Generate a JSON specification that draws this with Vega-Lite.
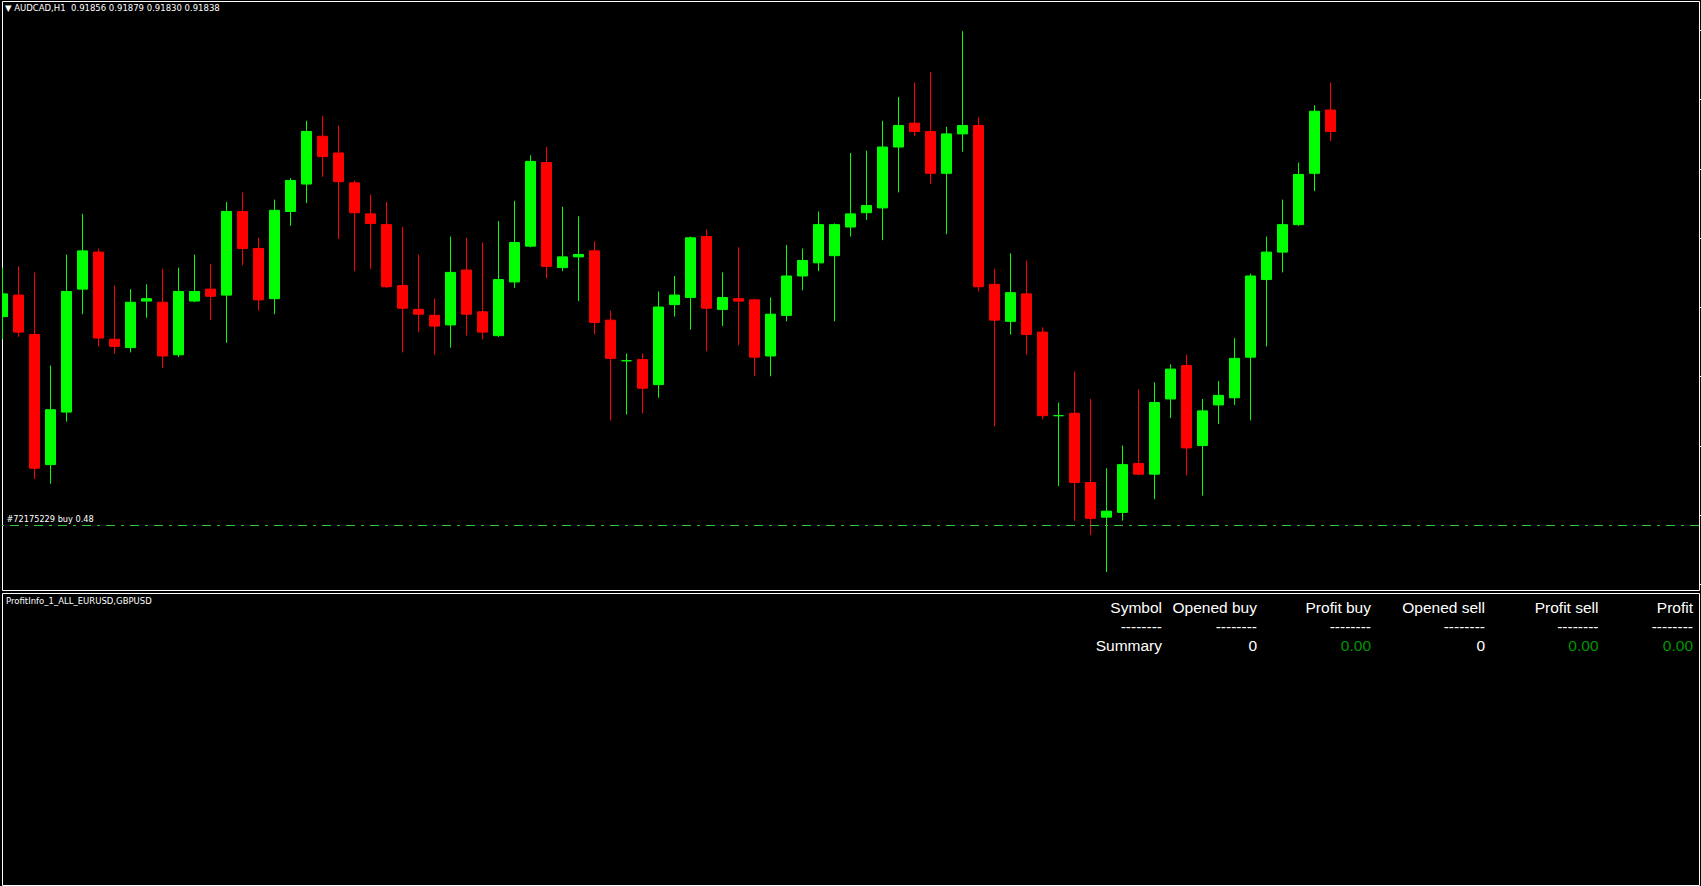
{
  "$schema": "https://vega.github.io/schema/vega-lite/v6.json",
  "background": "#000000",
  "padding": {"left": 1, "top": 0, "right": 0, "bottom": 0},
  "spacing": 3,
  "bounds": "flush",
  "config": {
    "view": {"stroke": "#FFFFFF", "strokeWidth": 1, "fill": "#000000"},
    "text": {"font": "DejaVu Sans"}
  },
  "datasets": {
    "header": [
      {"text": "▼ AUDCAD,H1\u00a0\u00a00.91856 0.91879 0.91830 0.91838"}
    ],
    "panel": [
      {"text": "ProfitInfo_1_ALL_EURUSD,GBPUSD"}
    ],
    "candles": [
      {"i":0,"open":0.91683,"high":0.91724,"low":0.91664,"close":0.91702},
      {"i":1,"open":0.91701,"high":0.91725,"low":0.91666,"close":0.91670},
      {"i":2,"open":0.91668,"high":0.91720,"low":0.91547,"close":0.91556},
      {"i":3,"open":0.91559,"high":0.91642,"low":0.91543,"close":0.91605},
      {"i":4,"open":0.91603,"high":0.91735,"low":0.91595,"close":0.91704},
      {"i":5,"open":0.91706,"high":0.91769,"low":0.91685,"close":0.91738},
      {"i":6,"open":0.91737,"high":0.91740,"low":0.91658,"close":0.91665},
      {"i":7,"open":0.91664,"high":0.91709,"low":0.91652,"close":0.91658},
      {"i":8,"open":0.91657,"high":0.91706,"low":0.91653,"close":0.91695},
      {"i":9,"open":0.91696,"high":0.91710,"low":0.91682,"close":0.91698},
      {"i":10,"open":0.91695,"high":0.91723,"low":0.91640,"close":0.91650},
      {"i":11,"open":0.91651,"high":0.91724,"low":0.91649,"close":0.91704},
      {"i":12,"open":0.91696,"high":0.91735,"low":0.91695,"close":0.91704},
      {"i":13,"open":0.91706,"high":0.91727,"low":0.91680,"close":0.91700},
      {"i":14,"open":0.91701,"high":0.91779,"low":0.91661,"close":0.91771},
      {"i":15,"open":0.91771,"high":0.91787,"low":0.91726,"close":0.91740},
      {"i":16,"open":0.91740,"high":0.91749,"low":0.91688,"close":0.91697},
      {"i":17,"open":0.91698,"high":0.91781,"low":0.91685,"close":0.91772},
      {"i":18,"open":0.91771,"high":0.91799,"low":0.91759,"close":0.91797},
      {"i":19,"open":0.91794,"high":0.91847,"low":0.91778,"close":0.91838},
      {"i":20,"open":0.91834,"high":0.91851,"low":0.91800,"close":0.91817},
      {"i":21,"open":0.91820,"high":0.91843,"low":0.91748,"close":0.91796},
      {"i":22,"open":0.91795,"high":0.91797,"low":0.91721,"close":0.91770},
      {"i":23,"open":0.91769,"high":0.91785,"low":0.91723,"close":0.91761},
      {"i":24,"open":0.91760,"high":0.91779,"low":0.91707,"close":0.91708},
      {"i":25,"open":0.91709,"high":0.91758,"low":0.91653,"close":0.91690},
      {"i":26,"open":0.91689,"high":0.91735,"low":0.91670,"close":0.91685},
      {"i":27,"open":0.91684,"high":0.91698,"low":0.91651,"close":0.91675},
      {"i":28,"open":0.91676,"high":0.91750,"low":0.91657,"close":0.91720},
      {"i":29,"open":0.91722,"high":0.91749,"low":0.91667,"close":0.91685},
      {"i":30,"open":0.91687,"high":0.91745,"low":0.91664,"close":0.91670},
      {"i":31,"open":0.91667,"high":0.91763,"low":0.91666,"close":0.91714},
      {"i":32,"open":0.91712,"high":0.91780,"low":0.91707,"close":0.91745},
      {"i":33,"open":0.91742,"high":0.91818,"low":0.91741,"close":0.91813},
      {"i":34,"open":0.91812,"high":0.91825,"low":0.91715,"close":0.91725},
      {"i":35,"open":0.91724,"high":0.91775,"low":0.91721,"close":0.91733},
      {"i":36,"open":0.91733,"high":0.91767,"low":0.91696,"close":0.91735},
      {"i":37,"open":0.91738,"high":0.91746,"low":0.91668,"close":0.91678},
      {"i":38,"open":0.91680,"high":0.91688,"low":0.91596,"close":0.91648},
      {"i":39,"open":0.91646,"high":0.91652,"low":0.91601,"close":0.91646},
      {"i":40,"open":0.91647,"high":0.91652,"low":0.91602,"close":0.91623},
      {"i":41,"open":0.91626,"high":0.91704,"low":0.91615,"close":0.91691},
      {"i":42,"open":0.91693,"high":0.91717,"low":0.91683,"close":0.91701},
      {"i":43,"open":0.91699,"high":0.91750,"low":0.91672,"close":0.91749},
      {"i":44,"open":0.91750,"high":0.91756,"low":0.91654,"close":0.91690},
      {"i":45,"open":0.91689,"high":0.91720,"low":0.91675,"close":0.91699},
      {"i":46,"open":0.91698,"high":0.91741,"low":0.91659,"close":0.91696},
      {"i":47,"open":0.91697,"high":0.91698,"low":0.91633,"close":0.91649},
      {"i":48,"open":0.91650,"high":0.91699,"low":0.91633,"close":0.91685},
      {"i":49,"open":0.91684,"high":0.91743,"low":0.91679,"close":0.91717},
      {"i":50,"open":0.91717,"high":0.91740,"low":0.91705,"close":0.91730},
      {"i":51,"open":0.91728,"high":0.91771,"low":0.91721,"close":0.91760},
      {"i":52,"open":0.91734,"high":0.91761,"low":0.91679,"close":0.91760},
      {"i":53,"open":0.91758,"high":0.91820,"low":0.91750,"close":0.91769},
      {"i":54,"open":0.91770,"high":0.91822,"low":0.91764,"close":0.91776},
      {"i":55,"open":0.91774,"high":0.91847,"low":0.91747,"close":0.91825},
      {"i":56,"open":0.91825,"high":0.91867,"low":0.91787,"close":0.91843},
      {"i":57,"open":0.91845,"high":0.91879,"low":0.91834,"close":0.91838},
      {"i":58,"open":0.91838,"high":0.91888,"low":0.91794,"close":0.91803},
      {"i":59,"open":0.91803,"high":0.91842,"low":0.91752,"close":0.91836},
      {"i":60,"open":0.91836,"high":0.91922,"low":0.91821,"close":0.91843},
      {"i":61,"open":0.91843,"high":0.91850,"low":0.91704,"close":0.91708},
      {"i":62,"open":0.91710,"high":0.91723,"low":0.91591,"close":0.91680},
      {"i":63,"open":0.91679,"high":0.91736,"low":0.91668,"close":0.91703},
      {"i":64,"open":0.91702,"high":0.91730,"low":0.91651,"close":0.91668},
      {"i":65,"open":0.91670,"high":0.91674,"low":0.91597,"close":0.91600},
      {"i":66,"open":0.91600,"high":0.91611,"low":0.91541,"close":0.91600},
      {"i":67,"open":0.91602,"high":0.91637,"low":0.91512,"close":0.91544},
      {"i":68,"open":0.91544,"high":0.91614,"low":0.91500,"close":0.91514},
      {"i":69,"open":0.91515,"high":0.91556,"low":0.91469,"close":0.91520},
      {"i":70,"open":0.91519,"high":0.91575,"low":0.91512,"close":0.91559},
      {"i":71,"open":0.91560,"high":0.91622,"low":0.91550,"close":0.91551},
      {"i":72,"open":0.91551,"high":0.91628,"low":0.91530,"close":0.91611},
      {"i":73,"open":0.91614,"high":0.91643,"low":0.91598,"close":0.91639},
      {"i":74,"open":0.91642,"high":0.91651,"low":0.91550,"close":0.91573},
      {"i":75,"open":0.91575,"high":0.91614,"low":0.91533,"close":0.91604},
      {"i":76,"open":0.91609,"high":0.91629,"low":0.91593,"close":0.91617},
      {"i":77,"open":0.91615,"high":0.91665,"low":0.91609,"close":0.91648},
      {"i":78,"open":0.91649,"high":0.91719,"low":0.91596,"close":0.91717},
      {"i":79,"open":0.91714,"high":0.91750,"low":0.91658,"close":0.91737},
      {"i":80,"open":0.91737,"high":0.91781,"low":0.91720,"close":0.91760},
      {"i":81,"open":0.91760,"high":0.91812,"low":0.91759,"close":0.91802},
      {"i":82,"open":0.91803,"high":0.91860,"low":0.91788,"close":0.91855},
      {"i":83,"open":0.91856,"high":0.91879,"low":0.91830,"close":0.91838}
    ],
    "orders": [
      {"label": "#72175229 buy 0.48", "price": 0.91508}
    ],
    "table": [
      {"col": 0, "row": 0, "text": "Symbol", "kind": "head"},
      {"col": 1, "row": 0, "text": "Opened buy", "kind": "head"},
      {"col": 2, "row": 0, "text": "Profit buy", "kind": "head"},
      {"col": 3, "row": 0, "text": "Opened sell", "kind": "head"},
      {"col": 4, "row": 0, "text": "Profit sell", "kind": "head"},
      {"col": 5, "row": 0, "text": "Profit", "kind": "head"},
      {"col": 0, "row": 1, "text": "--------", "kind": "head"},
      {"col": 1, "row": 1, "text": "--------", "kind": "head"},
      {"col": 2, "row": 1, "text": "--------", "kind": "head"},
      {"col": 3, "row": 1, "text": "--------", "kind": "head"},
      {"col": 4, "row": 1, "text": "--------", "kind": "head"},
      {"col": 5, "row": 1, "text": "--------", "kind": "head"},
      {"col": 0, "row": 2, "text": "Summary", "kind": "head"},
      {"col": 1, "row": 2, "text": "0", "kind": "count"},
      {"col": 2, "row": 2, "text": "0.00", "kind": "profit"},
      {"col": 3, "row": 2, "text": "0", "kind": "count"},
      {"col": 4, "row": 2, "text": "0.00", "kind": "profit"},
      {"col": 5, "row": 2, "text": "0.00", "kind": "profit"}
    ]
  },
  "vconcat": [
    {
      "width": 1697,
      "height": 589,
      "layer": [
        {
          "data": {"name": "candles"},
          "mark": {"type": "rule", "strokeWidth": 1, "clip": true},
          "encoding": {
            "x": {"field": "i", "type": "quantitative", "scale": {"domain": [-0.03125, 106.03125], "nice": false, "zero": false, "padding": 0}, "axis": null},
            "y": {"field": "low", "type": "quantitative",
              "scale": {"domain": [0.91454, 0.919473], "nice": false, "zero": false, "padding": 0},
              "axis": {"orient": "right", "labels": false, "ticks": true, "tickSize": 3, "tickColor": "#FFFFFF", "tickWidth": 1, "domain": false, "grid": false, "title": null,
                "values": [0.91923, 0.91894, 0.91865, 0.91836, 0.91807, 0.91778, 0.91749, 0.9172, 0.91691, 0.91662, 0.91633, 0.91604, 0.91575, 0.91546, 0.91517, 0.91488, 0.91459]}},
            "y2": {"field": "high"},
            "color": {"condition": {"test": "datum.close >= datum.open", "value": "#00FF00"}, "value": "#FF0000"}
          }
        },
        {
          "data": {"name": "candles"},
          "mark": {"type": "bar", "size": 10, "strokeWidth": 1, "clip": true},
          "encoding": {
            "x": {"field": "i", "type": "quantitative"},
            "y": {"field": "open", "type": "quantitative"},
            "y2": {"field": "close"},
            "color": {"condition": {"test": "datum.close >= datum.open", "value": "#00FF00"}, "value": "#FF0000"},
            "stroke": {"condition": {"test": "datum.close >= datum.open", "value": "#00FF00"}, "value": "#FF0000"}
          }
        },
        {
          "data": {"name": "orders"},
          "mark": {"type": "rule", "color": "#32CD32", "strokeWidth": 1, "strokeDash": [9, 6, 3, 6]},
          "encoding": {
            "y": {"field": "price", "type": "quantitative"}
          }
        },
        {
          "data": {"name": "orders"},
          "mark": {"type": "text", "align": "left", "baseline": "alphabetic", "dx": 4, "dy": -4, "font": "DejaVu Sans", "fontSize": 8.2, "color": "#FFFFFF"},
          "encoding": {
            "x": {"datum": 0, "type": "quantitative"},
            "y": {"field": "price", "type": "quantitative"},
            "text": {"field": "label"}
          }
        },
        {
          "data": {"name": "header"},
          "mark": {"type": "text", "align": "left", "baseline": "alphabetic", "dx": 3, "dy": 10, "font": "DejaVu Sans", "fontSize": 8.5, "color": "#FFFFFF"},
          "encoding": {
            "x": {"datum": -0.03125, "type": "quantitative"},
            "y": {"datum": 0.919473, "type": "quantitative"},
            "text": {"field": "text"}
          }
        }
      ]
    },
    {
      "width": 1697,
      "height": 292,
      "layer": [
        {
          "data": {"name": "table"},
          "mark": {"type": "text", "align": "right", "baseline": "alphabetic", "font": "Liberation Sans", "fontSize": 15.5},
          "encoding": {
            "x": {"field": "col", "type": "quantitative", "scale": {"domain": [0, 1, 2, 3, 4, 5], "range": [1160, 1255, 1369, 1483, 1596.5, 1691], "nice": false, "zero": false}, "axis": null},
            "y": {"field": "row", "type": "quantitative", "scale": {"domain": [0, 2], "range": [20, 57.5], "nice": false, "zero": false}, "axis": null},
            "text": {"field": "text"},
            "color": {"condition": {"test": "datum.kind === 'profit'", "value": "#009600"}, "value": "#FFFFFF"}
          }
        },
        {
          "data": {"name": "panel"},
          "mark": {"type": "text", "align": "left", "baseline": "alphabetic", "dx": 4, "dy": 11, "font": "DejaVu Sans", "fontSize": 8.5, "color": "#FFFFFF"},
          "encoding": {
            "x": {"datum": 0, "type": "quantitative", "scale": {"domain": [0, 1], "nice": false, "zero": false}, "axis": null},
            "y": {"datum": 1, "type": "quantitative", "scale": {"domain": [0, 1], "nice": false, "zero": false}, "axis": null},
            "text": {"field": "text"}
          }
        }
      ],
      "resolve": {"scale": {"x": "independent", "y": "independent"}}
    }
  ]
}
